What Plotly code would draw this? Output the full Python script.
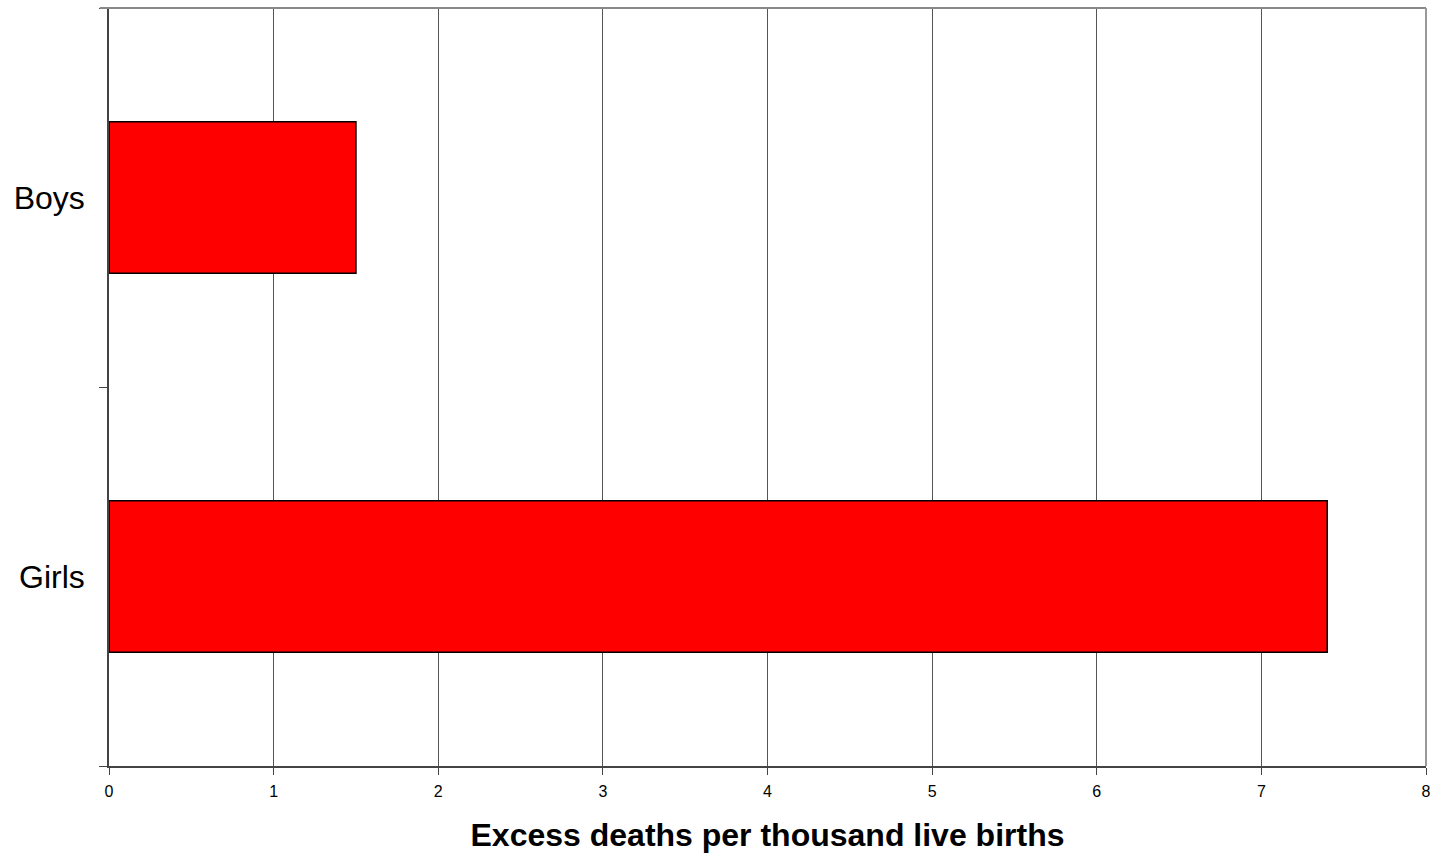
import plotly.graph_objects as go

categories = ["Girls", "Boys"]
values = [7.4, 1.5]
x_ticks = [0, 1, 2, 3, 4, 5, 6, 7, 8]

fig = go.Figure()
fig.add_trace(go.Bar(
    y=categories, x=values, orientation="h",
    marker=dict(color="#ff0000", line=dict(color="#000000", width=1.5)),
    width=0.4,
))

fig.update_layout(
    width=1431, height=855,
    margin=dict(l=109, r=5, t=8, b=89),
    paper_bgcolor="white", plot_bgcolor="white",
    font=dict(family="Liberation Sans, Arial, sans-serif", color="black"),
    showlegend=False,
    shapes=[
        dict(type="line", xref="paper", yref="paper", x0=-0.007, x1=1, y0=1, y1=1,
             line=dict(color="#888888", width=2)),
        dict(type="line", xref="paper", yref="paper", x0=1, x1=1, y0=0, y1=1,
             line=dict(color="#999999", width=2)),
    ],
)
fig.update_xaxes(
    range=[0, 8], tickvals=x_ticks, ticktext=[str(t) for t in x_ticks],
    showgrid=True, gridcolor="#555555", gridwidth=1,
    showline=True, linecolor="#444444", linewidth=1.5,
    ticks="outside", ticklen=7, tickcolor="#444444",
    tickfont=dict(size=16), ticklabelstandoff=3, ticklabeloverflow="allow",
    zeroline=False, automargin=False,
    title=dict(text="<b>Excess deaths per thousand live births</b>", font=dict(size=32), standoff=25),
)
fig.update_yaxes(
    type="category", categoryorder="array", categoryarray=categories,
    range=[-0.5, 1.5], tickson="boundaries",
    showgrid=False, showline=True, linecolor="#444444", linewidth=1.5,
    ticks="outside", ticklen=8, tickcolor="#444444",
    tickfont=dict(size=32), ticklabelstandoff=16, automargin=False,
)
fig.write_html("out.html")
